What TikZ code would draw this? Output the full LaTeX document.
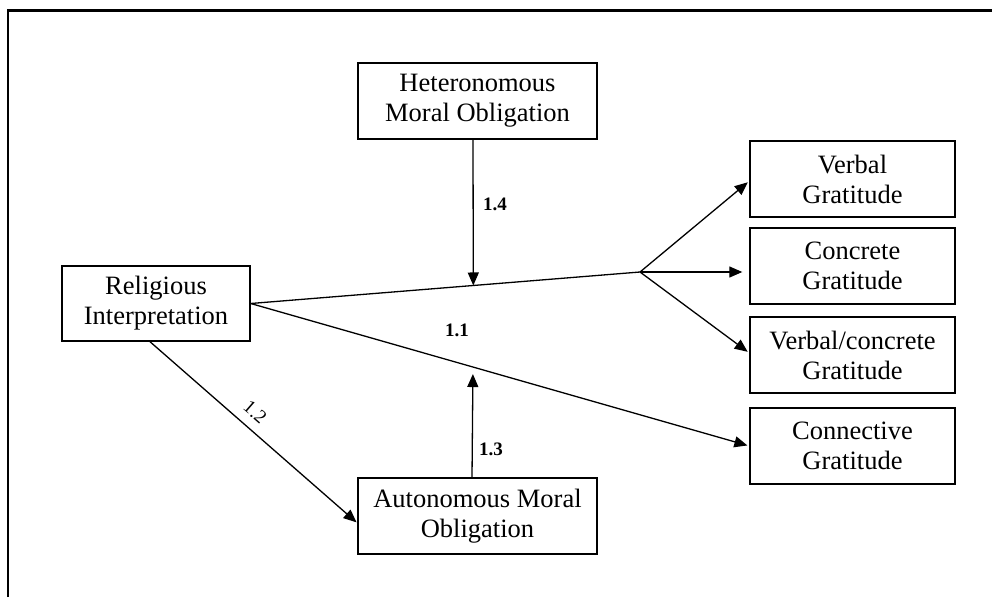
\documentclass[tikz,border=0pt]{standalone}
\usepackage{fontspec}
\setmainfont{Liberation Serif}
\usetikzlibrary{arrows.meta,calc}
\begin{document}
\begin{tikzpicture}[x=1pt,y=-1pt,
  box/.style={draw,line width=1.4pt,minimum width=#1,minimum height=76pt,inner sep=0pt,
    align=center,font=\fontsize{26.5}{30}\selectfont},
  arr/.style={line width=1.3pt,-{Triangle[length=13pt,width=11pt]}},
  plain/.style={line width=1.3pt},
  lab/.style={font=\fontsize{19}{21}\selectfont\bfseries,inner sep=0pt},
  labn/.style={font=\fontsize{19}{21}\selectfont,inner sep=0pt}]
\useasboundingbox (0,0) rectangle (992,597);
\draw[line width=2.5pt] (8,597) -- (8,10.5) -- (992,10.5);
\node[box=239pt] (het) at (477.5,101) {Heteronomous\\Moral Obligation};
\node[box=188pt,minimum height=75pt] (rel) at (156,303.5) {Religious\\Interpretation};
\node[box=239pt] (aut) at (477.5,516) {Autonomous Moral\\Obligation};
\node[box=205pt] (verb) at (852.5,179) {Verbal\\Gratitude};
\node[box=205pt] (conc) at (852.5,266) {Concrete\\Gratitude};
\node[box=205pt] (vc) at (852.5,355) {Verbal/concrete\\Gratitude};
\node[box=205pt] (conn) at (852.5,446) {Connective\\Gratitude};
\coordinate (split) at (640,272);
% main paths
\draw[plain] (rel.east) -- (split);
\draw[arr,shorten >=2pt] (rel.east) -- (conn.west);
\draw[arr,shorten >=2pt] (split) -- ([yshift=-2pt]verb.west);
\draw[arr,shorten >=7pt] (split) -- (split -| conc.west);
\draw[arr,shorten >=2pt] (split) -- ([yshift=2pt]vc.west);
% moderators
\coordinate (m4) at ($(rel.east)!0.5718!(split)$);
\draw[arr] ([xshift=-4.5pt]het.south) -- (m4);
\coordinate (m3) at ($(rel.east)!0.4458!(conn.west)$);
\draw[arr,shorten >=7pt] ([xshift=-5.5pt]aut.north) -- (m3);
% mediator
\draw[arr,shorten >=1pt] ([xshift=-6pt]rel.south) -- ([yshift=-7pt]aut.west);
% labels
\node[lab] (l14) at (495,204) {1.4};
\node[lab] (l11) at (457,330) {1.1};
\node[lab] (l13) at (491,449) {1.3};
\node[labn,rotate=-41] (l12) at (255,412) {1.2};
\end{tikzpicture}
\end{document}
